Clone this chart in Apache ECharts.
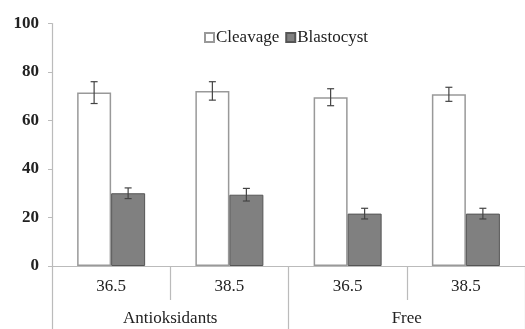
<!DOCTYPE html>
<html><head><meta charset="utf-8">
<script src="https://cdn.jsdelivr.net/npm/echarts@6/dist/echarts.min.js"></script>
<style>html,body{margin:0;padding:0;background:#fff}#c{width:525px;height:329px}</style>
</head><body><div id="c"></div>
<script>
var categories = ['36.5', '38.5', '36.5', '38.5'];
var groups = ['Antioksidants', 'Free'];
var cleavage = [71.5, 72.2, 69.6, 70.8];
var cleavageErr = [4.5, 3.8, 3.5, 2.9];
var blastocyst = [30.0, 29.4, 21.6, 21.6];
var blastocystErr = [2.2, 2.6, 2.2, 2.2];
var yTicks = [0, 20, 40, 60, 80, 100];

var FONT = '"Liberation Serif", "Times New Roman", serif';
var BAR_W = 34;
var chart = echarts.init(document.getElementById('c'));

function errSeries(name, vals, errs, offset) {
  return {
    type: 'custom', name: name + ' err', silent: true, z: 5,
    data: vals.map(function (v, i) { return [i, v - errs[i], v + errs[i]]; }),
    renderItem: function (params, api) {
      var lo = api.coord([api.value(0), api.value(1)]);
      var hi = api.coord([api.value(0), api.value(2)]);
      var x = lo[0] + offset;
      var cap = 3.5;
      var st = { stroke: '#444', lineWidth: 1.2 };
      return { type: 'group', children: [
        { type: 'line', shape: { x1: x, y1: lo[1], x2: x, y2: hi[1] }, style: st },
        { type: 'line', shape: { x1: x - cap, y1: lo[1], x2: x + cap, y2: lo[1] }, style: st },
        { type: 'line', shape: { x1: x - cap, y1: hi[1], x2: x + cap, y2: hi[1] }, style: st }
      ]};
    }
  };
}

chart.setOption({
  animation: false,
  textStyle: { fontFamily: FONT },
  legend: {
    left: 199, top: 24, itemWidth: 9, itemHeight: 9, itemGap: 6,
    icon: 'rect',
    textStyle: { fontFamily: FONT, fontSize: 17, color: '#222', padding: [0, 0, 0, -3] },
    data: ['Cleavage', 'Blastocyst']
  },
  grid: { left: 52, right: 0, top: 23.5, bottom: 63, containLabel: false },
  xAxis: [{
    type: 'category', data: categories, position: 'bottom',
    axisLine: { show: true, lineStyle: { color: '#bbb', width: 1.2 } },
    axisTick: { show: true, length: 34, lineStyle: { color: '#bbb', width: 1.2 } },
    axisLabel: { fontFamily: FONT, fontSize: 17, color: '#222', margin: 12 }
  }, {
    type: 'category', data: groups, position: 'bottom', offset: 34,
    axisLine: { show: false },
    axisTick: { show: true, length: 30, lineStyle: { color: '#bbb', width: 1.2 } },
    axisLabel: { fontFamily: FONT, fontSize: 17, color: '#222', margin: 10 }
  }],
  yAxis: {
    type: 'value', min: 0, max: 100, interval: 20,
    axisLine: { show: true, lineStyle: { color: '#bbb', width: 1.2 } },
    axisTick: { show: true, length: 4, lineStyle: { color: '#bbb' } },
    splitLine: { show: false },
    axisLabel: { fontFamily: FONT, fontSize: 17, fontWeight: 'bold', color: '#222', margin: 13,
      customValues: yTicks }
  },
  series: [{
    name: 'Cleavage', type: 'bar', data: cleavage, barWidth: BAR_W, barGap: '0%',
    itemStyle: { color: '#fff', borderColor: '#999', borderWidth: 1.5 }
  }, {
    name: 'Blastocyst', type: 'bar', data: blastocyst, barWidth: BAR_W, barGap: '0%',
    itemStyle: { color: '#808080', borderColor: '#555', borderWidth: 1 }
  },
  errSeries('Cleavage', cleavage, cleavageErr, -BAR_W / 2),
  errSeries('Blastocyst', blastocyst, blastocystErr, BAR_W / 2)
  ]
});
</script></body></html>
